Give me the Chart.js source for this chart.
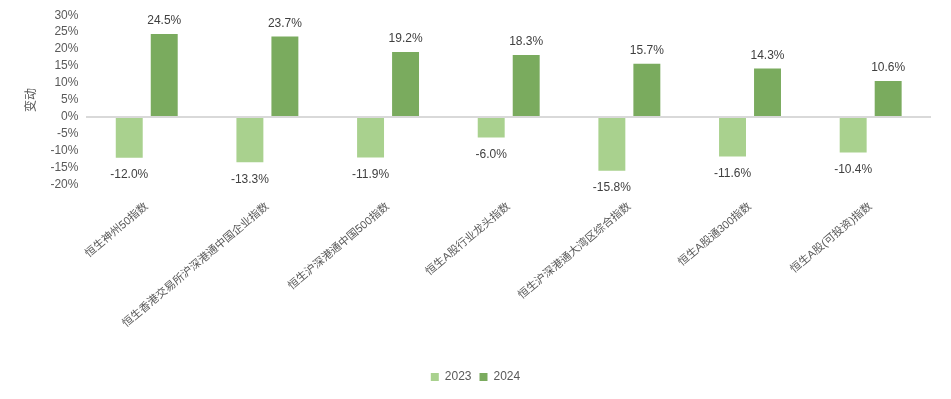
<!DOCTYPE html>
<html>
<head>
<meta charset="utf-8">
<script src="https://cdn.jsdelivr.net/npm/chart.js@4.4.0/dist/chart.umd.min.js"></script>
<style>
  html, body { margin: 0; padding: 0; background: #fff; }
  #wrap { width: 951px; height: 399px; }
</style>
</head>
<body>
<div id="wrap"><canvas id="canvas1"></canvas></div>
<script>
// Donnees
const categories = ['恒生神州50指数', '恒生香港交易所沪深港通中国企业指数', '恒生沪深港通中国500指数', '恒生A股行业龙头指数', '恒生沪深港通大湾区综合指数', '恒生A股通300指数', '恒生A股(可投资)指数'];
const values2023 = [-12.0, -13.3, -11.9, -6.0, -15.8, -11.6, -10.4];
const values2024 = [24.5, 23.7, 19.2, 18.3, 15.7, 14.3, 10.6];
const seriesNames = ['2023', '2024'];
const yTicks = [-20, -15, -10, -5, 0, 5, 10, 15, 20, 25, 30];

const fontFamily = "'Liberation Sans', Arial, 'Noto Sans CJK SC', sans-serif";
const textGray = '#595959';

// Plugin etiquettes de valeurs
const valueLabels = {
    id: 'valueLabels',
    afterDatasetsDraw(chart) {
        const ctx = chart.ctx;
        ctx.save();
        ctx.font = '12px ' + fontFamily;
        ctx.fillStyle = '#404040';
        ctx.textAlign = 'center';
        ctx.textBaseline = 'middle';
        chart.data.datasets.forEach((ds, i) => {
            chart.getDatasetMeta(i).data.forEach((bar, j) => {
                const v = ds.data[j];
                const y = v >= 0 ? bar.y - 13 : bar.y + 17;
                ctx.fillText(v.toFixed(1) + '%', bar.x, y);
            });
        });
        ctx.restore();
    }
};

let ctx = document.getElementById('canvas1').getContext('2d');

let config = {
    type: 'bar',
    data: {
        labels: categories,
        datasets: [{
            label: seriesNames[0],
            data: values2023,
            backgroundColor: '#a9d18e',
            categoryPercentage: 0.58,
            barPercentage: 0.77
        }, {
            label: seriesNames[1],
            data: values2024,
            backgroundColor: '#7aab5e',
            categoryPercentage: 0.58,
            barPercentage: 0.77
        }]
    },
    options: {
        responsive: true,
        maintainAspectRatio: false,
        animation: false,
        layout: { padding: { top: 15, right: 20, left: 20, bottom: 6 } },
        plugins: {
            legend: {
                position: 'bottom',
                labels: {
                    boxWidth: 8,
                    boxHeight: 8,
                    padding: 8,
                    color: textGray,
                    font: { size: 12, family: fontFamily }
                }
            },
            tooltip: { enabled: false }
        },
        scales: {
            x: {
                grid: { display: false },
                border: { display: false },
                afterFit(axis) {
                    axis.height = 178;
                },
                ticks: {
                    minRotation: 40,
                    maxRotation: 40,
                    padding: 7,
                    color: textGray,
                    font: { size: 11, family: fontFamily }
                }
            },
            y: {
                min: -20,
                max: 30,
                afterBuildTicks(axis) {
                    axis.ticks = yTicks.map(v => ({ value: v }));
                },
                border: { display: false },
                grid: {
                    drawTicks: false,
                    lineWidth: 2,
                    color: c => c.tick && c.tick.value === 0 ? '#d9d9d9' : 'rgba(0,0,0,0)'
                },
                title: {
                    display: true,
                    text: '变动',
                    color: textGray,
                    font: { size: 12, family: fontFamily }
                },
                ticks: {
                    autoSkip: false,
                    padding: 8,
                    color: textGray,
                    font: { size: 12, family: fontFamily },
                    callback: v => v + '%'
                }
            }
        }
    },
    plugins: [valueLabels]
};

let chart = new Chart(ctx, config);
</script>
</body>
</html>
